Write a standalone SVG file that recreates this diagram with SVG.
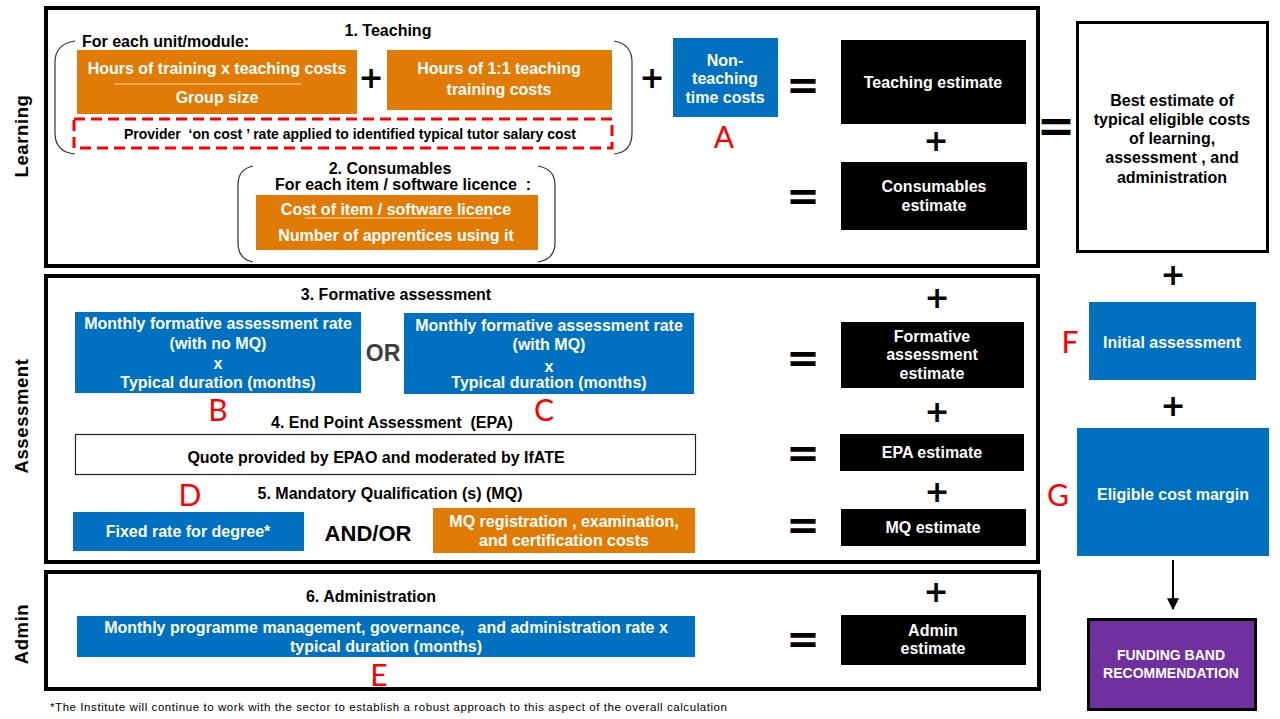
<svg xmlns="http://www.w3.org/2000/svg" width="1280" height="719" viewBox="0 0 1280 719">
<defs>
<style>
.t{font-family:"Liberation Sans",Arial,sans-serif;font-weight:bold;font-size:16px;text-anchor:middle;white-space:pre}
.w{fill:#fff}
.k{fill:#000}
.sec{fill:none;stroke:#000;stroke-width:4}
.org{fill:#E27B06}
.blu{fill:#0070C0}
.blk{fill:#000}
.red{font-family:Lato,"Liberation Sans",sans-serif;fill:#FF0000;font-size:30px;text-anchor:middle}
.op{font-family:"DejaVu Sans",sans-serif;font-weight:bold;text-anchor:middle;fill:#000}
.pl{font-size:30px}
.eq{font-size:40px}
.lab{font-family:"Liberation Sans",Arial,sans-serif;font-weight:bold;font-size:18.5px;text-anchor:middle;letter-spacing:0.6px}
.brk{fill:none;stroke:#333;stroke-width:1.2}
.div{stroke:#F6D3A8;stroke-width:1}
</style>
<marker id="ah" viewBox="0 0 10 10" refX="9" refY="5" markerWidth="6" markerHeight="6" orient="auto">
<path d="M0,0 L10,5 L0,10 z" fill="#000"/>
</marker>
</defs>
<rect width="1280" height="719" fill="#fff"/>

<!-- Section labels -->
<g id="labels">
<text class="lab k" transform="translate(28,136) rotate(-90)">Learning</text>
<text class="lab k" transform="translate(28,416) rotate(-90)">Assessment</text>
<text class="lab k" transform="translate(28,634) rotate(-90)">Admin</text>
</g>

<!-- Learning section -->
<g id="learning">
<rect class="sec" x="46" y="8" width="992" height="258"/>
<text class="t k" x="388" y="36">1. Teaching</text>
<text class="t k" x="82" y="47" style="text-anchor:start">For each unit/module:</text>
<path class="brk" d="M75,41 Q55,44 55,62 L55,133 Q55,152 75,154"/>
<path class="brk" d="M614,41 Q632,44 632,62 L632,133 Q632,152 614,154"/>
</g>

<g id="teaching-group">
<rect class="org" x="77" y="50" width="280" height="64"/>
<text class="t w" x="217" y="74">Hours of training x teaching costs</text>
<line class="div" x1="114" y1="84" x2="301" y2="84"/>
<text class="t w" x="217" y="103">Group size</text>
</g>
<text class="op pl" x="371" y="88">+</text>
<g id="teaching-1to1">
<rect class="org" x="387" y="50" width="225" height="60"/>
<text class="t w" x="499" y="74">Hours of 1:1 teaching</text>
<text class="t w" x="499" y="95">training costs</text>
</g>
<g id="oncost">
<rect x="74" y="119" width="538" height="29" fill="none" stroke="#FF0000" stroke-width="3" stroke-dasharray="11 6"/>
<text class="t k" x="350" y="139" style="font-size:14px" xml:space="preserve">Provider  ‘on cost ’ rate applied to identified typical tutor salary cost</text>
</g>
<text class="op pl" x="652" y="88">+</text>
<g id="nonteaching">
<rect class="blu" x="673" y="38" width="105" height="79"/>
<text class="t w" x="725" y="66">Non-</text>
<text class="t w" x="725" y="84">teaching</text>
<text class="t w" x="725" y="103">time costs</text>
<text class="red" x="724" y="148">A</text>
</g>
<text class="op eq" x="803" y="99">=</text>
<g id="teaching-estimate">
<rect class="blk" x="841" y="40" width="185" height="84"/>
<text class="t w" x="933" y="88">Teaching estimate</text>
</g>
<text class="op pl" x="936" y="151">+</text>
<g id="consumables">
<text class="t k" x="390" y="174">2. Consumables</text>
<text class="t k" x="403" y="190" xml:space="preserve">For each item / software licence  :</text>
<path class="brk" d="M253,166 Q238,169 238,185 L238,243 Q238,259 253,262"/>
<path class="brk" d="M538,166 Q555,169 555,185 L555,243 Q555,259 538,262"/>
<rect class="org" x="256" y="195" width="282" height="55"/>
<text class="t w" x="396" y="215">Cost of item / software licence</text>
<line class="div" x1="305" y1="218" x2="492" y2="218"/>
<text class="t w" x="396" y="241">Number of apprentices using it</text>
</g>
<text class="op eq" x="803" y="210">=</text>
<g id="consumables-estimate">
<rect class="blk" x="841" y="162" width="186" height="68"/>
<text class="t w" x="934" y="192">Consumables</text>
<text class="t w" x="934" y="211">estimate</text>
</g>

<!-- Total -->
<text class="op" x="1056" y="142" style="font-size:46px">=</text>
<g id="best-estimate">
<rect x="1077.5" y="22.5" width="190" height="229" fill="#fff" stroke="#000" stroke-width="3"/>
<text class="t k" x="1172" y="106">Best estimate of</text>
<text class="t k" x="1172" y="125">typical eligible costs</text>
<text class="t k" x="1172" y="144">of learning,</text>
<text class="t k" x="1172" y="163">assessment , and</text>
<text class="t k" x="1172" y="183">administration</text>
</g>
<text class="op pl" x="1173" y="285">+</text>
<g id="initial-assessment">
<rect class="blu" x="1089" y="302" width="167" height="78"/>
<text class="t w" x="1172" y="348">Initial assessment</text>
<text class="red" x="1070" y="353">F</text>
</g>
<text class="op pl" x="1173" y="416">+</text>
<g id="margin">
<rect class="blu" x="1077" y="428" width="192" height="128"/>
<text class="t w" x="1173" y="500">Eligible cost margin</text>
<text class="red" x="1058" y="506">G</text>
</g>
<g id="funding-band">
<rect x="1088.5" y="619.5" width="167" height="90" fill="#7030A0" stroke="#000" stroke-width="3"/>
<text class="t w" x="1171" y="660" style="font-size:14px">FUNDING BAND</text>
<text class="t w" x="1171" y="678" style="font-size:14px">RECOMMENDATION</text>
</g>

<!-- Assessment section -->
<g id="assessment">
<rect class="sec" x="46" y="276" width="992" height="286"/>
<text class="t k" x="396" y="300">3. Formative assessment</text>
</g>
<g id="formative-b">
<rect class="blu" x="75" y="312" width="286" height="81"/>
<text class="t w" x="218" y="329">Monthly formative assessment rate</text>
<text class="t w" x="218" y="349">(with no MQ)</text>
<text class="t w" x="218" y="369">x</text>
<text class="t w" x="218" y="388">Typical duration (months)</text>
<text class="red" x="218" y="421">B</text>
</g>
<text class="t" x="383" y="361" style="font-size:23px;fill:#404040">OR</text>
<g id="formative-c">
<rect class="blu" x="404" y="313" width="290" height="81"/>
<text class="t w" x="549" y="331">Monthly formative assessment rate</text>
<text class="t w" x="549" y="350">(with MQ)</text>
<text class="t w" x="549" y="372">x</text>
<text class="t w" x="549" y="388">Typical duration (months)</text>
<text class="red" x="544" y="421">C</text>
</g>
<text class="op pl" x="937" y="308">+</text>
<text class="op eq" x="803" y="372">=</text>
<g id="formative-estimate">
<rect class="blk" x="841" y="322" width="183" height="66"/>
<text class="t w" x="932" y="342">Formative</text>
<text class="t w" x="932" y="360">assessment</text>
<text class="t w" x="932" y="379">estimate</text>
</g>
<text class="t k" x="392" y="428" xml:space="preserve">4. End Point Assessment  (EPA)</text>
<g id="epa">
<rect x="75.5" y="434.5" width="620" height="40" fill="#fff" stroke="#222" stroke-width="1.2"/>
<text class="t k" x="376" y="463">Quote provided by EPAO and moderated by IfATE</text>
</g>
<text class="op pl" x="937" y="422">+</text>
<text class="op eq" x="803" y="467">=</text>
<g id="epa-estimate">
<rect class="blk" x="840" y="434" width="184" height="37"/>
<text class="t w" x="932" y="458">EPA estimate</text>
</g>
<text class="red" x="190" y="506">D</text>
<text class="t k" x="390" y="499">5. Mandatory Qualification (s) (MQ)</text>
<g id="fixed-rate">
<rect class="blu" x="73" y="512" width="231" height="39"/>
<text class="t w" x="188" y="537">Fixed rate for degree*</text>
</g>
<text class="t k" x="368" y="541" style="font-size:22px">AND/OR</text>
<g id="mq-costs">
<rect class="org" x="433" y="508" width="262" height="45"/>
<text class="t w" x="564" y="527">MQ registration , examination,</text>
<text class="t w" x="564" y="546">and certification costs</text>
</g>
<text class="op pl" x="937" y="502">+</text>
<text class="op eq" x="803" y="539">=</text>
<g id="mq-estimate">
<rect class="blk" x="841" y="509" width="185" height="37"/>
<text class="t w" x="933" y="533">MQ estimate</text>
</g>

<!-- Admin section -->
<g id="admin">
<rect class="sec" x="46" y="572" width="993" height="117"/>
<text class="t k" x="371" y="602">6. Administration</text>
</g>
<g id="admin-rate">
<rect class="blu" x="77" y="616" width="618" height="41"/>
<text class="t w" x="386" y="633" xml:space="preserve">Monthly programme management, governance,   and administration rate x</text>
<text class="t w" x="386" y="652">typical duration (months)</text>
<text class="red" x="379" y="686">E</text>
</g>
<text class="op pl" x="936" y="602">+</text>
<text class="op eq" x="803" y="653">=</text>
<g id="admin-estimate">
<rect class="blk" x="841" y="615" width="185" height="50"/>
<text class="t w" x="933" y="636">Admin</text>
<text class="t w" x="933" y="654">estimate</text>
</g>

<text x="50" y="711" style="font-family:'Liberation Sans',Arial,sans-serif;font-size:11.5px;fill:#000" textLength="677">*The Institute will continue to work with the sector to establish a robust approach to this aspect of the overall calculation</text>

<!-- Connectors -->
<g id="connectors">
<line x1="1173" y1="560" x2="1173" y2="609" stroke="#000" stroke-width="2" marker-end="url(#ah)"/>
</g>
</svg>
